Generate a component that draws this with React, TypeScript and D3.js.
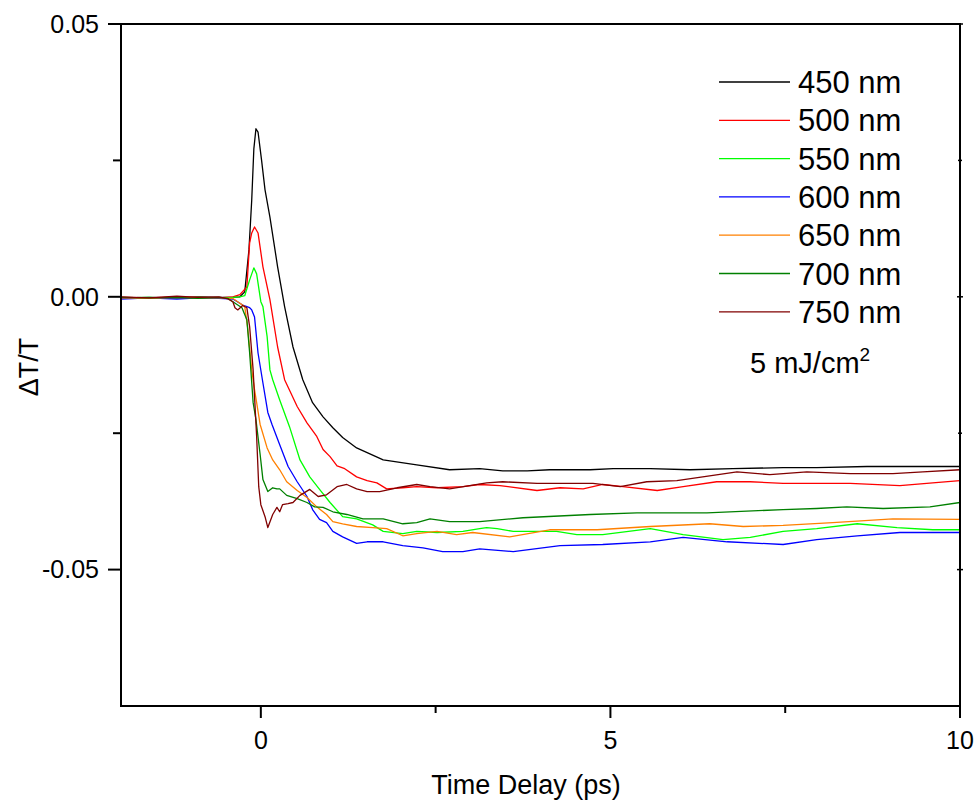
import React from "react";
import * as d3 from "d3";

const seriesNames = ["450 nm", "500 nm", "550 nm", "600 nm", "650 nm", "700 nm", "750 nm"];
const seriesColors = ["#000000", "#ff0000", "#00ff00", "#0000ff", "#ff8000", "#008000", "#800000"];

const s450: [number, number][] = [
  [-2.0, -0.0002], [-1.6, -0.0001], [-1.2, -0.0002], [-0.9, 0.0], [-0.6, -0.0001], [-0.4, -0.0001], [-0.3, 0.0],
  [-0.23, 0.0009], [-0.17, 0.0086], [-0.13, 0.0178], [-0.1, 0.0271], [-0.07, 0.0308], [-0.04, 0.0302],
  [0.01, 0.0251], [0.06, 0.0196], [0.13, 0.0146], [0.24, 0.0055], [0.34, -0.0018], [0.46, -0.0092],
  [0.6, -0.0152], [0.74, -0.0194], [0.89, -0.022], [1.03, -0.024], [1.17, -0.0258], [1.37, -0.0277],
  [1.75, -0.0299], [2.23, -0.0308], [2.7, -0.0317], [3.13, -0.0315], [3.46, -0.0319], [3.81, -0.0319],
  [4.13, -0.0317], [4.71, -0.0317], [5.04, -0.0315], [5.57, -0.0315], [6.14, -0.0317], [6.75, -0.0315],
  [7.47, -0.0313], [7.95, -0.0313], [8.67, -0.0311], [9.38, -0.0311], [10.0, -0.0311],
];

const s500: [number, number][] = [
  [-2.0, -0.0001], [-1.6, -0.0002], [-1.2, 0.0], [-0.9, -0.0001], [-0.6, -0.0002], [-0.4, 0.0], [-0.3, 0.0004],
  [-0.2, 0.0018], [-0.16, 0.0099], [-0.13, 0.0117], [-0.09, 0.0128], [-0.04, 0.0117], [0.03, 0.0055],
  [0.13, -0.0005], [0.24, -0.0092], [0.34, -0.0152], [0.52, -0.0201], [0.66, -0.0231], [0.8, -0.0256],
  [0.89, -0.028], [0.99, -0.0293], [1.09, -0.031], [1.2, -0.0315], [1.37, -0.033], [1.52, -0.0337],
  [1.66, -0.0341], [1.8, -0.0352], [2.03, -0.035], [2.23, -0.0348], [2.52, -0.035], [2.89, -0.0348],
  [3.13, -0.0344], [3.42, -0.0346], [3.95, -0.0355], [4.28, -0.035], [4.61, -0.0352], [4.89, -0.0344],
  [5.18, -0.0348], [5.67, -0.0355], [6.04, -0.0348], [6.52, -0.0339], [7.0, -0.0339], [7.47, -0.0342],
  [8.43, -0.0342], [9.14, -0.0346], [9.61, -0.0341], [10.0, -0.0337],
];

const s550: [number, number][] = [
  [-2.0, -0.0002], [-1.6, -0.0001], [-1.2, -0.0003], [-0.9, -0.0001], [-0.6, -0.0002], [-0.4, -0.0001], [-0.3, 0.0],
  [-0.23, 0.0002], [-0.16, 0.0031], [-0.1, 0.0053], [-0.06, 0.0042], [0.0, -0.0009], [0.03, -0.0018],
  [0.09, -0.0073], [0.13, -0.0134], [0.17, -0.0152], [0.27, -0.0189], [0.41, -0.0238], [0.56, -0.0299],
  [0.7, -0.033], [0.84, -0.0353], [0.99, -0.0377], [1.17, -0.0403], [1.37, -0.0407], [1.6, -0.0418],
  [1.75, -0.043], [2.03, -0.0434], [2.23, -0.043], [2.52, -0.0432], [2.89, -0.043], [3.13, -0.0425],
  [3.23, -0.0423], [3.38, -0.0425], [3.61, -0.043], [4.23, -0.043], [4.52, -0.0436], [4.89, -0.0436],
  [5.57, -0.0425], [6.04, -0.0436], [6.61, -0.0445], [7.0, -0.0441], [7.47, -0.043], [7.95, -0.0425],
  [8.53, -0.0416], [9.1, -0.0423], [9.61, -0.0427], [10.0, -0.0427],
];

const s600: [number, number][] = [
  [-2.0, -0.0004], [-1.6, -0.0002], [-1.2, -0.0004], [-0.9, -0.0002], [-0.6, -0.0003], [-0.4, -0.0004],
  [-0.26, -0.0015], [-0.16, -0.002], [-0.13, -0.0024], [-0.09, -0.0037], [-0.04, -0.0103], [0.03, -0.0158],
  [0.1, -0.0212], [0.16, -0.0234], [0.27, -0.0271], [0.39, -0.0311], [0.52, -0.0339], [0.66, -0.0366],
  [0.74, -0.039], [0.84, -0.0408], [0.94, -0.0414], [1.03, -0.043], [1.17, -0.044], [1.37, -0.0452],
  [1.52, -0.0449], [1.75, -0.0449], [2.03, -0.0456], [2.32, -0.046], [2.6, -0.0467], [2.89, -0.0467],
  [3.13, -0.0462], [3.61, -0.0467], [4.28, -0.0456], [4.89, -0.0454], [5.57, -0.0449], [6.04, -0.0441],
  [6.67, -0.0449], [7.47, -0.0454], [7.95, -0.0445], [8.53, -0.0438], [9.14, -0.0432], [10.0, -0.0432],
];

const s650: [number, number][] = [
  [-2.0, -0.0002], [-1.6, -0.0003], [-1.2, -0.0001], [-0.9, -0.0002], [-0.6, -0.0002], [-0.4, -0.0003],
  [-0.33, -0.0009], [-0.23, -0.0018], [-0.19, -0.0055], [-0.13, -0.0134], [-0.09, -0.017], [-0.01, -0.0234],
  [0.09, -0.0277], [0.17, -0.0299], [0.27, -0.0317], [0.37, -0.0339], [0.52, -0.0355], [0.66, -0.0368],
  [0.8, -0.0385], [0.94, -0.0399], [1.03, -0.0412], [1.17, -0.0416], [1.37, -0.0421], [1.6, -0.0423],
  [1.8, -0.0425], [2.03, -0.0438], [2.23, -0.0434], [2.52, -0.043], [2.8, -0.0436], [3.03, -0.0432],
  [3.56, -0.044], [4.13, -0.0427], [4.81, -0.0427], [5.57, -0.0421], [6.42, -0.0416], [6.9, -0.0421],
  [7.47, -0.0419], [8.18, -0.0414], [9.04, -0.0407], [10.0, -0.0408],
];

const s700: [number, number][] = [
  [-2.0, -0.0001], [-1.6, -0.0002], [-1.2, -0.0001], [-0.9, -0.0003], [-0.6, -0.0001], [-0.47, -0.0003],
  [-0.4, -0.0009], [-0.27, -0.002], [-0.2, -0.0042], [-0.16, -0.0103], [-0.11, -0.0194], [-0.07, -0.0225],
  [-0.01, -0.0289], [0.03, -0.0335], [0.1, -0.0357], [0.17, -0.035], [0.23, -0.0352], [0.27, -0.0352],
  [0.37, -0.0364], [0.52, -0.037], [0.66, -0.0377], [0.77, -0.0385], [0.89, -0.0386], [1.03, -0.0394],
  [1.23, -0.0399], [1.46, -0.0407], [1.75, -0.0407], [2.03, -0.0416], [2.23, -0.0414], [2.42, -0.0407],
  [2.7, -0.0412], [3.13, -0.0412], [3.75, -0.0405], [4.71, -0.0399], [5.38, -0.0396], [6.38, -0.0396],
  [7.47, -0.039], [7.95, -0.0388], [8.38, -0.0385], [8.9, -0.0388], [9.57, -0.0385], [10.0, -0.0377],
];

const s750: [number, number][] = [
  [-2.0, 0.0], [-1.6, -0.0002], [-1.2, 0.0001], [-0.9, -0.0001], [-0.6, 0.0], [-0.47, -0.0004],
  [-0.4, -0.0009], [-0.37, -0.002], [-0.33, -0.0024], [-0.26, -0.0016], [-0.2, -0.002], [-0.16, -0.0055],
  [-0.11, -0.0134], [-0.06, -0.0256], [-0.03, -0.0348], [0.0, -0.0381], [0.06, -0.0403], [0.1, -0.0423],
  [0.17, -0.0399], [0.23, -0.0386], [0.27, -0.0394], [0.31, -0.0381], [0.39, -0.0379], [0.46, -0.0377],
  [0.56, -0.0364], [0.7, -0.0353], [0.82, -0.0366], [0.94, -0.0363], [1.09, -0.0348], [1.23, -0.0344],
  [1.37, -0.0352], [1.52, -0.0357], [1.7, -0.0357], [1.95, -0.035], [2.23, -0.0344], [2.42, -0.0348],
  [2.7, -0.0352], [3.23, -0.0341], [3.46, -0.0339], [3.95, -0.0342], [4.75, -0.0342], [5.14, -0.0348],
  [5.52, -0.0339], [5.95, -0.0337], [6.32, -0.033], [6.81, -0.0321], [7.28, -0.0326], [7.81, -0.0321],
  [8.43, -0.0324], [9.04, -0.0324], [9.47, -0.0321], [10.0, -0.0317],
];

const allSeries = [s450, s500, s550, s600, s650, s700, s750];

const xMajorTicks = [0, 5, 10];
const xMinorTicks = [2.5, 7.5];
const yMajorTicks = [0.05, 0.0, -0.05];
const yMinorTicks = [0.025, -0.025];
const yTickLabels = ["0.05", "0.00", "-0.05"];

const W = 976;
const H = 805;
const left = 121, right = 960, top = 24, bottom = 706;
const FONT = "Arial, 'Liberation Sans', sans-serif";

export default function App() {
  const x = d3.scaleLinear().domain([-2, 10]).range([left, right]);
  const y = d3.scaleLinear().domain([-0.075, 0.05]).range([bottom, top]);
  const line = d3
    .line<[number, number]>()
    .x((d) => x(d[0]))
    .y((d) => y(d[1]))
    .curve(d3.curveLinear);

  return (
    <svg
      width={W}
      height={H}
      viewBox={`0 0 ${W} ${H}`}
      style={{ position: "absolute", left: 0, top: 0, background: "#fff" }}
    >
      <defs>
        <clipPath id="plotclip">
          <rect x={left} y={top} width={right - left} height={bottom - top} />
        </clipPath>
      </defs>
      <rect x={0} y={0} width={W} height={H} fill="#fff" />

      <g clipPath="url(#plotclip)">
        {allSeries.map((s, i) => (
          <path
            key={i}
            d={line(s) || ""}
            fill="none"
            stroke={seriesColors[i]}
            strokeWidth={1.3}
            strokeLinejoin="round"
          />
        ))}
      </g>

      {/* frame */}
      <rect x={left} y={top} width={right - left} height={bottom - top} fill="none" stroke="#000" strokeWidth={2} />

      {/* left axis ticks */}
      {yMajorTicks.map((t, i) => (
        <g key={"ym" + i}>
          <line x1={left - 13} x2={left} y1={y(t)} y2={y(t)} stroke="#000" strokeWidth={2} />
          <line x1={right - 3} x2={right + 3} y1={y(t)} y2={y(t)} stroke="#000" strokeWidth={1.5} />
          <text
            x={99}
            y={y(t)}
            dy="0.35em"
            textAnchor="end"
            fontFamily={FONT}
            fontSize={25}
            fill="#000"
          >
            {yTickLabels[i]}
          </text>
        </g>
      ))}
      {yMinorTicks.map((t, i) => (
        <g key={"yn" + i}>
          <line x1={left - 8} x2={left} y1={y(t)} y2={y(t)} stroke="#000" strokeWidth={2} />
          <line x1={right - 2} x2={right + 2} y1={y(t)} y2={y(t)} stroke="#000" strokeWidth={1.5} />
        </g>
      ))}

      {/* bottom axis ticks */}
      {xMajorTicks.map((t, i) => (
        <g key={"xm" + i}>
          <line x1={x(t)} x2={x(t)} y1={bottom} y2={bottom + 12} stroke="#000" strokeWidth={2} />
          <text x={x(t)} y={749} textAnchor="middle" fontFamily={FONT} fontSize={25} fill="#000">
            {String(t)}
          </text>
        </g>
      ))}
      {xMinorTicks.map((t, i) => (
        <line key={"xn" + i} x1={x(t)} x2={x(t)} y1={bottom} y2={bottom + 7} stroke="#000" strokeWidth={2} />
      ))}

      {/* axis titles */}
      <text x={526} y={794} textAnchor="middle" fontFamily={FONT} fontSize={27} fill="#000">
        Time Delay (ps)
      </text>
      <text
        transform="translate(38,367) rotate(-90)"
        textAnchor="middle"
        fontFamily={FONT}
        fontSize={27}
        fill="#000"
      >
        ΔT/T
      </text>

      {/* legend */}
      {seriesNames.map((name, i) => (
        <g key={"lg" + i}>
          <line
            x1={719}
            x2={790}
            y1={82 + 38.3 * i}
            y2={82 + 38.3 * i}
            stroke={seriesColors[i]}
            strokeWidth={1.3}
          />
          <text x={798} y={93 + 38.3 * i} fontFamily={FONT} fontSize={31} fill="#000">
            {name}
          </text>
        </g>
      ))}
      <text x={750} y={373} fontFamily={FONT} fontSize={29} fill="#000">
        5 mJ/cm
        <tspan dy={-12} fontSize={19}>
          2
        </tspan>
      </text>
    </svg>
  );
}
